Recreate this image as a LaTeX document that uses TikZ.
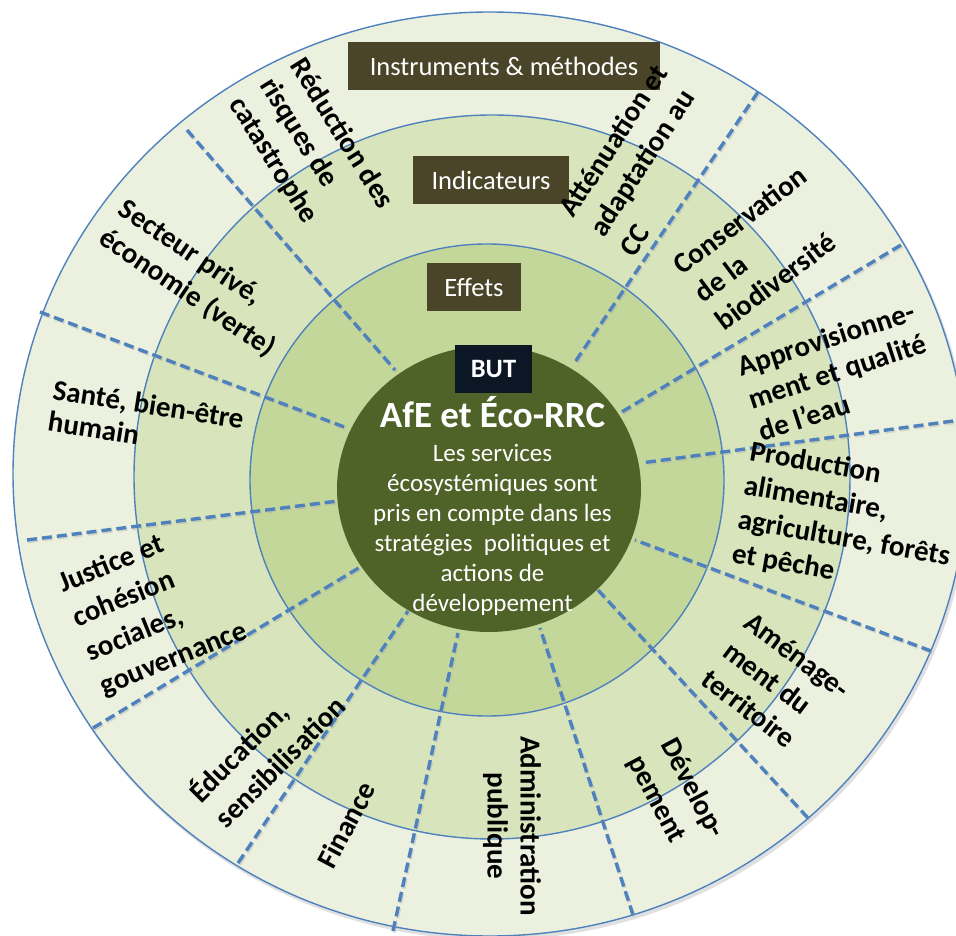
\documentclass[tikz,border=0pt]{standalone}
\usepackage{fontspec}
\setmainfont{Carlito}
\definecolor{ringOut}{HTML}{EBF1DE}
\definecolor{ringMid}{HTML}{D8E4BC}
\definecolor{ringIn}{HTML}{C4D79B}
\definecolor{core}{HTML}{4F6228}
\definecolor{edgeblue}{HTML}{4F81BD}
\definecolor{boxbrown}{HTML}{4A4429}
\definecolor{boxnavy}{HTML}{0C1726}
\begin{document}
\begin{tikzpicture}[x=1pt,y=-1pt,
  ringline/.style={draw=edgeblue,line width=1.4pt},
  dashline/.style={draw=edgeblue,line width=3.4pt,dash pattern=on 10pt off 5pt},
  dashshadow/.style={draw=black!35,opacity=0.35,line width=3.4pt,dash pattern=on 10pt off 5pt},
  tagbox/.style={fill=boxbrown,text=white,inner sep=0pt,minimum height=48pt,font=\fontsize{26.5}{30}\selectfont},
  sector/.style={text=black,inner sep=0pt,align=left,font=\bfseries\fontsize{29}{#1}\selectfont},
  sector/.default=35,
  coretext/.style={text=white,inner sep=0pt,anchor=base,font=\fontsize{25}{30}\selectfont}]
\useasboundingbox (0,0) rectangle (956,936);
\clip (0,0) rectangle (956,936);
\fill[white] (0,0) rectangle (956,936);
% soft shadow under the disc
\fill[black,opacity=0.12] (492,477) ellipse [x radius=478pt, y radius=463pt];
% rings
\path[ringline,fill=ringOut] (490,474) ellipse [x radius=477pt, y radius=462pt];
\path[ringline,fill=ringMid] (492,477) ellipse [x radius=358pt, y radius=362pt];
\path[ringline,fill=ringIn] (487,480) ellipse [x radius=237pt, y radius=236pt];
% dashed dividers
\coordinate (d1o) at (187,130);  \coordinate (d1i) at (395,370);
\coordinate (d2o) at (40,312);   \coordinate (d2i) at (347,428);
\coordinate (d3o) at (27,540);   \coordinate (d3i) at (338,501);
\coordinate (d4o) at (93,728);   \coordinate (d4i) at (362,566);
\coordinate (d5o) at (238,863);  \coordinate (d5i) at (408,611);
\coordinate (d6o) at (393,931);  \coordinate (d6i) at (458,633);
\coordinate (d7o) at (633,915);  \coordinate (d7i) at (540,628);
\coordinate (d8o) at (808,818);  \coordinate (d8i) at (598,590);
\coordinate (d9o) at (931,651);  \coordinate (d9i) at (635,540);
\coordinate (d10o) at (968,419); \coordinate (d10i) at (641,463);
\coordinate (d11o) at (901,245); \coordinate (d11i) at (620,413);
\coordinate (d12o) at (758,92);  \coordinate (d12i) at (573,365);
\foreach \k in {1,...,12}{
  \draw[dashshadow,transform canvas={shift={(1.2pt,-1.6pt)}}] (d\k o) -- (d\k i);
  \draw[dashline] (d\k o) -- (d\k i);
}
% core
\fill[core] (489,489) ellipse [x radius=152pt, y radius=143pt];
% boxes
\node[tagbox,minimum width=312pt] (instr) at (504,66.5) {Instruments \& méthodes};
\node[tagbox,minimum width=156pt] (indic) at (491,180) {Indicateurs};
\node[tagbox,minimum width=94pt] (effets) at (474,287) {Effets};
\node[tagbox,fill=boxnavy,minimum width=77pt,font=\bfseries\fontsize{26.5}{30}\selectfont] (but) at (493.5,369) {BUT};
% core texts
\node[coretext,font=\bfseries\fontsize{37}{40}\selectfont] (title) at (492.5,427) {AfE et Éco-RRC};
\node[coretext] (c1) at (492.5,461) {Les services};
\node[coretext] (c2) at (492.5,491) {écosystémiques sont};
\node[coretext] (c3) at (492.5,521) {pris en compte dans les};
\node[coretext] (c4) at (492.5,551) {stratégies\ \ politiques et};
\node[coretext] (c5) at (492.5,581) {actions de};
\node[coretext] (c6) at (492.5,611) {développement};
% sector labels
\node[sector=36,rotate=-58] (sRed) at (311,153) {Réduction des\\risques de\\catastrophe};
\node[sector=36,rotate=57] (sAtt) at (643,160) {Atténuation et\\adaptation au\\CC};
\node[sector,rotate=37] (sCon) at (761,248) {Conservation\\de la\\biodiversité};
\node[sector=34,rotate=18] (sApp) at (837,371) {Approvisionne-\\ment et qualité\\de l’eau};
\node[sector=34.5,rotate=-10] (sPro) at (847,522) {Production\\alimentaire,\\agriculture, forêts\\et pêche};
\node[sector=36,rotate=-37] (sAme) at (776,684) {Aménage-\\ment du\\territoire};
\node[sector=37,rotate=-62] (sDev) at (676,797) {Dévelop-\\pement};
\node[sector=33,rotate=-90,align=center] (sAdm) at (512,826) {Administration\\publique};
\node[sector,rotate=62] (sFin) at (346,825) {Finance};
\node[sector=36.5,rotate=45] (sEdu) at (266,748) {Éducation,\\sensibilisation};
\node[sector=37,rotate=22] (sJus) at (153,608) {Justice et\\cohésion\\sociales,\\gouvernance};
\node[sector=32,rotate=-9] (sSan) at (146,420) {Santé, bien-être\\humain};
\node[sector,rotate=-34] (sSec) at (197,279) {Secteur privé,\\économie (verte)};
\end{tikzpicture}
\end{document}
